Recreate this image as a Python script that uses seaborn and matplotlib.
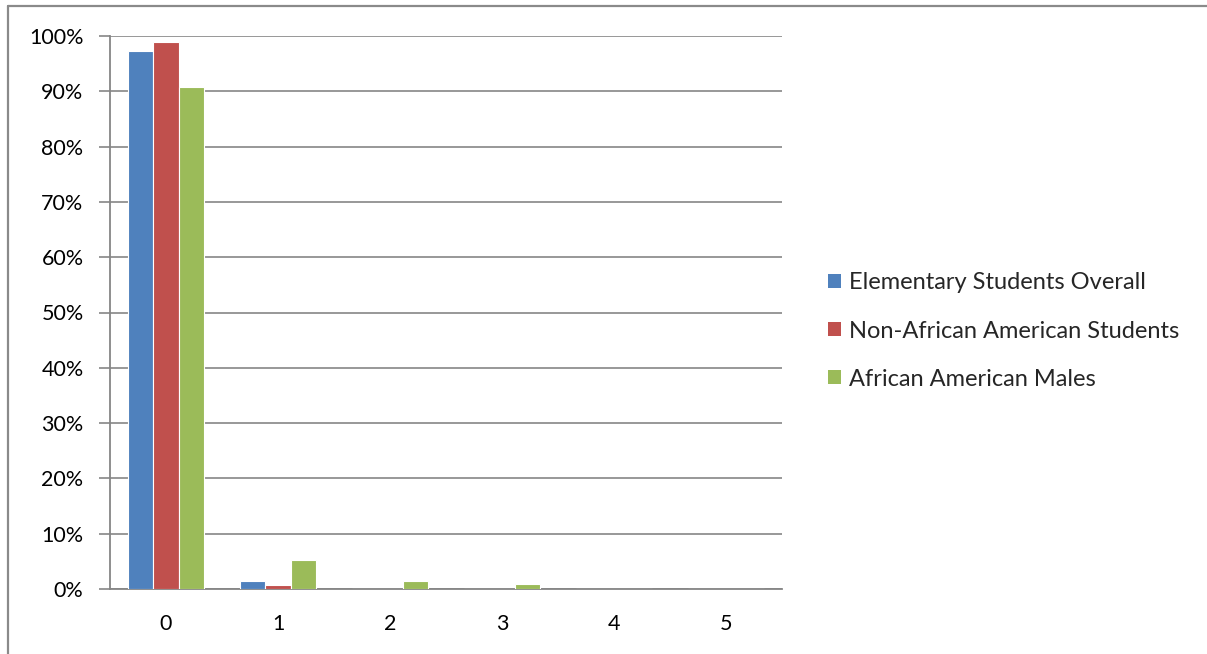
import matplotlib
matplotlib.use("Agg")
from matplotlib import pyplot as plt
from matplotlib.lines import Line2D
from matplotlib.patches import Patch
import seaborn as sns
import pandas as pd

# values (share of students, %)
counts = ["0", "1", "2", "3", "4", "5"]
overall = [97.3, 1.5, 0.05, 0.0, 0.0, 0.0]
non_aa = [98.9, 0.7, 0.05, 0.0, 0.0, 0.0]
aa_males = [90.8, 5.2, 1.5, 0.9, 0.05, 0.05]
series = ["Elementary Students Overall", "Non-African American Students", "African American Males"]
colors = ["#4F81BD", "#C0504D", "#9BBB59"]

df = pd.DataFrame({
    "count": counts * 3,
    "pct": overall + non_aa + aa_males,
    "group": [s for s in series for _ in counts],
})

sns.set_theme(style="white")
plt.rcParams["font.family"] = ["Lato", "DejaVu Sans"]

fig = plt.figure(figsize=(12.07, 6.54), dpi=100)
ax = fig.add_axes([110 / 1207, 1 - 589 / 654, (782 - 110) / 1207, (589 - 36) / 654])

sns.barplot(data=df, x="count", y="pct", hue="group", palette=colors, saturation=1,
            order=counts, hue_order=series, width=0.67, gap=0.0,
            edgecolor="white", linewidth=0.8, ax=ax, legend=False, zorder=3)

grid_c = "#868686"
ax.set_ylim(0, 100)
ax.set_xlim(-0.5, 5.5)
ax.set_yticks(range(0, 101, 10))
ax.set_yticklabels([f"{v}%" for v in range(0, 101, 10)])
ax.yaxis.grid(True, color=grid_c, linewidth=1.2, zorder=0)
ax.set_axisbelow(True)
ax.set_xlabel("")
ax.set_ylabel("")

# category tick marks sit between groups
ax.set_xticks([i - 0.5 for i in range(7)], minor=True)
ax.tick_params(axis="x", which="major", length=0, pad=18, labelsize=15.5, colors="black")
ax.tick_params(axis="x", which="minor", length=8, width=1.2, color=grid_c, direction="out")
ax.tick_params(axis="y", length=8, width=1.2, color=grid_c, direction="out", pad=11,
               labelsize=15.5, colors="black", left=True)
for s in ["top", "right"]:
    ax.spines[s].set_visible(False)
for s in ["left", "bottom"]:
    ax.spines[s].set_color(grid_c)
    ax.spines[s].set_linewidth(1.3)

handles = [Patch(facecolor=c, edgecolor="none") for c in colors]
fig.legend(handles, series, loc="center left", bbox_to_anchor=(807 / 1207, 1 - 331 / 654),
           frameon=False, fontsize=17, handlelength=0.55, handleheight=0.55,
           handletextpad=0.35, labelspacing=1.15)

# outer frame: only left and top edges show
fig.add_artist(Line2D([8 / 1207, 8 / 1207], [0, 1 - 6 / 654], transform=fig.transFigure,
                      color="#8a8a8a", linewidth=1.6))
fig.add_artist(Line2D([8 / 1207, 1], [1 - 6 / 654, 1 - 6 / 654], transform=fig.transFigure,
                      color="#8a8a8a", linewidth=1.6))

fig.savefig("out.png", dpi=100, facecolor="white")
